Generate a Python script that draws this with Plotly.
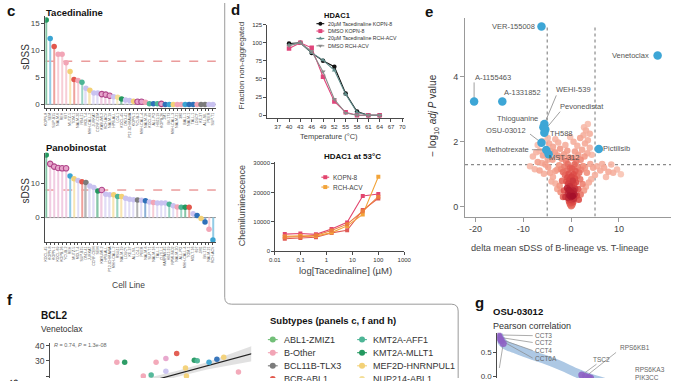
import numpy as np
import plotly.graph_objects as go

W, H = 678, 381
FONT = "Arial, 'Liberation Sans', sans-serif"

# ---------------- Panel c : lollipops ----------------
tac_cells = ["KOPN-8", "SEM", "SUP-B15", "NALM-6", "REH", "697", "MUTZ-5", "TOM-1", "NALM-20",
             "RS4;11", "MOLT-4", "MHH-CALL-2", "JURKAT", "CCRF-CEM", "KASUMI-2", "RCH-ACV",
             "NALM-19", "HPB-ALL", "LC4-1", "KOCL-45", "DND-41", "P12-ICHIKAWA", "KOPN-1",
             "YCUB-2", "MHH-CALL-4", "NALM-16", "KOCL-69", "ALL-PO", "HB11;19", "KOPB-26",
             "JM1", "BV-173", "MHH-CALL-3", "NALM-21", "380", "BALL-1", "NALM-1", "TALL-1",
             "LOUCY", "KE-37", "ALL-SIL", "PEER", "SUP-T1"]
tac_sdss = [15.6, 12.2, 10.7, 9.3, 9.3, 7.7, 6.1, 4.6, 4.4, 4.1, 3.0, 2.6, 2.1, 2.1, 1.9, 1.8,
            1.6, 1.4, 1.3, 1.0, 0.8, 0.7, 0.6, 0.5, 0.5, 0.4, 0.1, 0.1, 0.1, 0.1, 0.0, 0.0,
            0.0, 0.0, 0.0, 0.0, 0.0, 0.0, 0.0, 0.0, 0.0, 0.0, 0.0]
tac_subtype = ["KMT2A-MLLT1", "ETV6-RUNX1", "BCR-ABL1", "B-Other", "B-Other", "B-Other",
               "MEF2D-HNRNPUL1", "BCR-ABL1", "B-Other", "KMT2A-AFF1", "T-ALL", "MEF2D-HNRNPUL1",
               "T-ALL", "T-ALL", "PAX5alt", "PAX5alt", "PAX5alt", "T-ALL", "NUP214-ABL1",
               "KMT2A-MLLT1", "T-ALL", "T-ALL", "MEF2D-HNRNPUL1", "PAX5alt", "PAX5alt", "B-Other",
               "KMT2A-AFF1", "TCF3-PBX1", "KMT2A-AFF1", "PAX5alt", "TCF3-PBX1", "ETV6-RUNX1",
               "MEF2D-HNRNPUL1", "B-Other", "B-Other", "ETV6-RUNX1", "TCF3-PBX1", "TCF3-PBX1",
               "B-Other", "BCL11B-TLX3", "BCL11B-TLX3", "T-ALL", "T-ALL"]

pano_cells = ["KOCL-45", "KOPN-8", "KOPN-1", "KOCL-69", "KOPB-26", "YCUB-2", "REH", "MUTZ-5",
              "MOLT-4", "SUP-B15", "DND-41", "JURKAT", "CCRF-CEM", "SEM", "KASUMI-2", "HPB-ALL",
              "P12-ICHIKAWA", "MHH-CALL-2", "RS4;11", "NALM-19", "LOUCY", "KE-37", "ALL-SIL",
              "LC4-1", "PEER", "NALM-6", "SUP-T1", "NALM-16", "TALL-1", "CUTLL1", "KARPAS-45",
              "HB11;19", "RPMI-8402", "NALM-20", "ALL-PO", "MHH-CALL-4", "TOM-1", "MOLT-16",
              "697", "JM1", "BV-173", "NALM-21", "RCH-ACV"]
pano_sdss = [18.2, 15.6, 14.8, 14.4, 14.3, 14.3, 12.1, 11.3, 10.8, 10.4, 10.2, 9.2, 8.7, 7.7,
             8.0, 6.8, 6.6, 6.6, 6.1, 6.1, 5.6, 5.3, 5.2, 5.1, 5.0, 4.9, 4.5, 4.4, 4.2, 4.2,
             4.2, 3.9, 3.4, 3.1, 3.0, 3.0, 3.0, 1.1, 0.6, -0.3, -1.3, -3.4, -6.5]
pano_subtype = ["KMT2A-MLLT1", "PAX5alt", "PAX5alt", "PAX5alt", "PAX5alt", "PAX5alt",
                "ETV6-RUNX1", "MEF2D-HNRNPUL1", "T-ALL", "BCR-ABL1", "BCL11B-TLX3", "T-ALL",
                "T-ALL", "KMT2A-MLLT1", "PAX5alt", "T-ALL", "T-ALL", "MEF2D-HNRNPUL1",
                "KMT2A-AFF1", "MEF2D-HNRNPUL1", "T-ALL", "T-ALL", "T-ALL", "BCL11B-TLX3", "T-ALL",
                "TCF3-PBX1", "T-ALL", "B-Other", "T-ALL", "T-ALL", "T-ALL", "KMT2A-AFF1", "T-ALL",
                "B-Other", "KMT2A-AFF1", "KMT2A-MLLT1", "BCR-ABL1", "T-ALL", "TCF3-PBX1",
                "MEF2D-HNRNPUL1", "TCF3-PBX1", "B-Other", "ETV6-RUNX1"]
SDSS_CUTOFF = 8

SUB_COL = {
    "ABL1-ZMIZ1": "#72BF78", "B-Other": "#F2A5B6", "BCL11B-TLX3": "#7C7C7C",
    "BCR-ABL1": "#E2574C", "KMT2A-AFF1": "#4DB596", "KMT2A-MLLT1": "#23985F",
    "MEF2D-HNRNPUL1": "#F3D176", "NUP214-ABL1": "#F4DE96", "TCF3-PBX1": "#2F70B8",
    "ETV6-RUNX1": "#3AA4D2", "T-ALL": "#C9C2F0", "PAX5alt": "#E7A4CB",
}
legend_subtypes = ["ABL1-ZMIZ1", "B-Other", "BCL11B-TLX3", "BCR-ABL1",
                   "KMT2A-AFF1", "KMT2A-MLLT1", "MEF2D-HNRNPUL1", "NUP214-ABL1"]

# ---------------- Panel d : CETSA ----------------
temps = [40, 43, 46, 49, 52, 55, 58, 61, 64]
frac_tac_kopn8 = [99, 100, 86, 75, 67, 30, 5, 0, 0]
frac_dmso_kopn8 = [92, 100, 93, 53, 19, 4, 0, 0, 0]
frac_tac_rch = [97, 100, 86, 76, 62, 29, 4, 0, 0]
frac_dmso_rch = [96, 100, 88, 60, 22, 3, 0, 0, 0]

conc_um = [0.0244, 0.0977, 0.39, 1.5625, 6.25, 25, 100]
chemi_kopn8_a = [5800, 6000, 5700, 7500, 9800, 18800, 19500]
chemi_kopn8_b = [4200, 4500, 4700, 6200, 7100, 14000, 18000]
chemi_rch_a = [5000, 5200, 5100, 6300, 8600, 12500, 25400]
chemi_rch_b = [4700, 4900, 5400, 7000, 9200, 13600, 18600]

# ---------------- Panel e : volcano ----------------
volc_dx = [0.0, 0.15, -0.15, 0.3, -0.3, 0.05, 0.45, -0.45, 0.2, -0.2, 0.6, -0.6, 0.0, 0.35, -0.35,
           0.7, -0.7, 0.1, -0.1, 0.5, -0.5, 0.85, -0.85, 0.25, -0.25, 0.0, 0.6, -0.6, 1.0, -1.0,
           0.35, -0.35, 0.8, -0.8, 0.1,
           1.3, -1.3, 0.5, -0.5, 1.7, -1.7, 0.9, -0.9, 2.1, -2.1, 0.2, -0.2, 1.4, -1.4, 2.5, -2.5,
           0.7, -0.7, 2.9, -2.9, 3.3, -3.3, 1.9, -1.9, 2.4, -2.4, 1.5, -1.5, 1.2, -1.2,
           1.1, -1.1, 2.0, -2.0, 0.3, -0.4, 2.8, -2.8, 1.5, -1.5, 3.4, -3.4, 0.8, -0.8, 2.3, -2.3,
           3.9, -3.8, 1.3, -1.2, 2.9, -2.7, 0.5, 3.5, -3.3, 1.9, 2.6, 3.9, 3.1, 2.7, 3.5, -4.3,
           -4.6, -0.2, 4.3,
           -5.4, -6.1, -7.0, -8.6, -4.8, -6.6, -7.6, -5.7, -4.4, -3.8, -4.1, -3.3, -2.9, -2.2,
           -1.7, 4.0, 4.6, 5.4, 6.1, 6.9, 7.8, 8.8, 10.4, 7.3, 5.0, 4.2, 3.7, 3.1, 2.7, 2.0, 1.6,
           6.5, 8.4, 9.6,
           -6.6, -7.3, -5.9, -6.0, -4.9, -4.9, -3.9, -7.0, -8.0]
volc_nlogp = [0.02, 0.04, 0.06, 0.08, 0.1, 0.12, 0.15, 0.17, 0.2, 0.22, 0.25, 0.27, 0.3, 0.33, 0.35,
              0.38, 0.4, 0.43, 0.46, 0.5, 0.52, 0.55, 0.58, 0.6, 0.63, 0.67, 0.7, 0.72, 0.75, 0.78,
              0.8, 0.83, 0.87, 0.9, 0.93,
              0.95, 0.98, 1.0, 1.02, 1.05, 1.07, 1.1, 1.12, 1.14, 1.16, 1.18, 1.2, 1.22, 1.24, 1.26,
              1.28, 1.3, 1.32, 1.2, 1.15, 1.05, 1.1, 0.85, 0.8, 0.7, 0.65, 0.55, 0.5, 0.35, 0.3,
              1.4, 1.42, 1.45, 1.48, 1.5, 1.52, 1.55, 1.58, 1.6, 1.62, 1.65, 1.68, 1.7, 1.73, 1.76,
              1.79, 1.82, 1.85, 1.88, 1.9, 1.95, 1.98, 2.0, 2.05, 2.08, 2.12, 2.2, 2.25, 2.35, 2.45,
              2.55, 1.72, 1.95, 2.15, 1.6,
              1.3, 1.35, 1.38, 1.25, 1.22, 1.12, 1.16, 1.02, 1.05, 0.92, 0.78, 0.72, 0.55, 0.45,
              0.3, 1.32, 1.2, 1.25, 1.12, 1.2, 1.08, 1.05, 1.0, 0.92, 0.98, 0.85, 0.75, 0.62, 0.5,
              0.38, 0.22, 1.32, 1.3, 1.15,
              1.72, 1.68, 1.58, 2.02, 2.12, 1.45, 1.45, 1.9, 1.55]

hit_drugs = ["VER-155008", "Venetoclax", "A-1155463", "A-1331852", "WEHI-539", "Thioguanine",
             "Pevonedistat", "TH588", "OSU-03012", "Methotrexate", "Pictilisib", "MST-312"]
hit_dx = [-6.2, 18.1, -20.3, -14.4, -5.6, -5.8, -5.4, -5.6, -6.2, -5.2, 5.8, -4.7]
hit_nlogp = [5.55, 4.66, 3.24, 3.24, 2.55, 2.45, 2.38, 2.28, 1.97, 1.75, 1.78, 1.62]

# ---------------- Panel f : BCL2 vs venetoclax ----------------
bcl2_expr = [3.4, 3.8, 4.75, 5.15, 5.4, 5.9, 5.9, 6.45, 6.9, 6.95, 7.35, 7.5, 8.1, 8.5, 8.85, 9.6]
vene_sdss = [29.0, 29.0, 20.0, 20.6, 29.0, 31.6, 23.2, 34.8, 25.2, 20.0, 30.3, 30.0, 29.0, 31.0,
             32.3, 22.6]
bcl2_subtype = ["B-Other", "KMT2A-MLLT1", "B-Other", "KMT2A-AFF1", "B-Other", "PAX5alt", "T-ALL",
                "BCR-ABL1", "MEF2D-HNRNPUL1", "MEF2D-HNRNPUL1", "KMT2A-MLLT1", "KMT2A-AFF1",
                "ETV6-RUNX1", "TCF3-PBX1", "MEF2D-HNRNPUL1", "B-Other"]
fit_x = [5.0, 6.5, 8.0, 9.5, 10.3]
fit_y = [16.2, 21.5, 26.7, 32.0, 34.8]
fit_lo = [13.5, 19.6, 24.3, 28.0, 29.8]
fit_hi = [18.9, 23.4, 29.1, 36.0, 39.8]

# ---------------- Panel g : OSU-03012 correlation ----------------
rank = [1, 2, 3, 4, 5, 7, 9, 12, 15, 20, 30, 40, 50, 60, 70, 80, 85, 90, 100, 110, 130, 160, 180]
pearson_r = [0.87, 0.82, 0.78, 0.75, 0.72, 0.68, 0.65, 0.62, 0.60, 0.56, 0.48, 0.41, 0.34, 0.26,
             0.17, 0.07, 0.03, -0.01, -0.08, -0.14, -0.25, -0.40, -0.50]
g_genes = ["CCT3", "CCT2", "CCT4", "CCT6A", "TCP1", "TSC2", "RPS6KB1", "RPS6KA3", "PIK3CC"]
g_rank = [1, 2, 3, 4, 6, 86, 90, 93, 95]
g_r = [0.87, 0.82, 0.78, 0.75, 0.69, 0.02, -0.01, -0.03, -0.04]

# ======================================================================
def xd(a, b):
    return [a / W, b / W]


def yd(top, bottom):
    return [1 - bottom / H, 1 - top / H]


def lighten(hexc, f):
    h = hexc.lstrip('#')
    r, g, b = int(h[0:2], 16), int(h[2:4], 16), int(h[4:6], 16)
    r = int(r + (255 - r) * f)
    g = int(g + (255 - g) * f)
    b = int(b + (255 - b) * f)
    return f"rgb({r},{g},{b})"


AXC = "#4a4a4a"


def base_axis(**kw):
    d = dict(showgrid=False, zeroline=False, showline=True, linecolor=AXC, linewidth=1,
             ticks="outside", ticklen=3, tickwidth=1, tickcolor=AXC,
             tickfont=dict(size=8, color="#444", family=FONT), fixedrange=True)
    d.update(kw)
    return d


fig = go.Figure()
ann = []
shapes = []


def text(s, x, y, size, color="#333", bold=False, xanchor="left", yanchor="middle", angle=0):
    if bold:
        s = f"<b>{s}</b>"
    ann.append(dict(text=s, x=x / W, y=1 - y / H, xref="paper", yref="paper", showarrow=False,
                    font=dict(size=size, color=color, family=FONT), xanchor=xanchor,
                    yanchor=yanchor, textangle=angle, borderpad=0))


# ---------- panel c traces ----------
def lollipops(vals, subs, xa, ya):
    n = len(vals)
    xs = list(range(n))
    cols = [SUB_COL[s] for s in subs]
    fig.add_trace(go.Bar(x=xs, y=vals, width=0.36, marker=dict(color=[lighten(c, 0.45) for c in cols],
                                                               line=dict(width=0)),
                         xaxis=xa, yaxis=ya, hoverinfo="skip"))
    fig.add_trace(go.Scatter(x=xs, y=vals, mode="markers", xaxis=xa, yaxis=ya,
                             marker=dict(size=5.5, color=cols,
                                         line=dict(width=[1.1 if s == "PAX5alt" else 0 for s in subs],
                                                   color="#B0468A")),
                             hoverinfo="skip"))


lollipops(tac_sdss, tac_subtype, "x", "y")
lollipops(pano_sdss, pano_subtype, "x2", "y2")

for xa, ya, n in [("x", "y", len(tac_sdss)), ("x2", "y2", len(pano_sdss))]:
    shapes.append(dict(type="line", xref=xa, yref=ya, x0=-0.25, x1=n - 0.26, y0=0, y1=0,
                       line=dict(color="#8a8a8a", width=1), layer="below"))
    shapes.append(dict(type="line", xref=xa, yref=ya, x0=-0.25, x1=n - 0.26, y0=SDSS_CUTOFF,
                       y1=SDSS_CUTOFF, line=dict(color="#E06A6A", width=1, dash="dash"), layer="below"))

# ---------- panel d traces ----------
cet = [
    (frac_tac_kopn8, "#111111", "circle", "20µM Tacedinaline KOPN-8"),
    (frac_dmso_kopn8, "#E0457B", "square", "DMSO KOPN-8"),
    (frac_tac_rch, "#5F8C8A", "triangle-up", "20µM Tacedinaline RCH-ACV"),
    (frac_dmso_rch, "#8A8A8A", "triangle-down", "DMSO RCH-ACV"),
]
for vals, col, sym, name in cet:
    fig.add_trace(go.Scatter(x=temps, y=vals, mode="lines+markers", xaxis="x3", yaxis="y3",
                             line=dict(color=col, width=1.1), marker=dict(size=4.5, symbol=sym, color=col),
                             hoverinfo="skip"))

chem = [(chemi_kopn8_a, "#E2456E"), (chemi_kopn8_b, "#E05A55"), (chemi_rch_a, "#F2A43A"),
        (chemi_rch_b, "#EC7D3E")]
for vals, col in chem:
    fig.add_trace(go.Scatter(x=conc_um, y=vals, mode="lines+markers", xaxis="x4", yaxis="y4",
                             line=dict(color=col, width=1.1), marker=dict(size=4, symbol="square", color=col),
                             hoverinfo="skip"))

# ---------- panel e traces ----------
vx = np.array(volc_dx)
vy = np.array(volc_nlogp)
px_x = vx * 4.877
px_y = vy * 33.0
d2 = (px_x[:, None] - px_x[None, :]) ** 2 + (px_y[:, None] - px_y[None, :]) ** 2
dens = (d2 < 11 ** 2).sum(axis=1).astype(float)
order = np.argsort(dens)
fig.add_trace(go.Scatter(x=vx[order], y=vy[order], mode="markers", xaxis="x5", yaxis="y5",
                         marker=dict(size=6.5, color=dens[order], cmin=dens.min(), cmax=dens.max(),
                                     colorscale=[[0, "#F8C3B3"], [0.35, "#F1907C"], [0.7, "#DC4A45"],
                                                 [1, "#A50F2A"]],
                                     opacity=0.9, line=dict(width=0)),
                         hoverinfo="skip"))
for xv in (-5, 5):
    shapes.append(dict(type="line", xref="x5", yref="y5", x0=xv, x1=xv, y0=-0.3, y1=5.55,
                       line=dict(color="#8a8a8a", width=1.2, dash="dot"), layer="below"))
shapes.append(dict(type="line", xref="x5", yref="y5", x0=-22.2, x1=20.9, y0=1.3, y1=1.3,
                   line=dict(color="#8a8a8a", width=1.2, dash="dot"), layer="below"))

e_label = {  # name: (label x, label y, xanchor, leader end x, leader end y)
    "VER-155008": (-7.4, 5.55, "right", None, None),
    "Venetoclax": (16.6, 4.66, "right", None, None),
    "A-1155463": (-20.4, 3.99, "left", -20.3, 3.83),
    "A-1331852": (-14.3, 3.52, "left", None, None),
    "WEHI-539": (-3.3, 3.60, "left", -3.1, 3.43),
    "Pevonedistat": (-2.6, 3.08, "left", -2.3, 2.93),
    "Thioguanine": (-6.8, 2.73, "right", -6.3, 2.62),
    "TH588": (-4.7, 2.27, "left", None, None),
    "OSU-03012": (-9.3, 2.34, "right", -8.6, 2.24),
    "Methotrexate": (-8.5, 1.78, "right", -8.2, 1.76),
    "Pictilisib": (6.5, 1.81, "left", None, None),
    "MST-312": (-4.8, 1.51, "left", None, None),
}
lx, ly = [], []
for name, xv, yv in zip(hit_drugs, hit_dx, hit_nlogp):
    tx, ty, anc, ex, ey = e_label[name]
    if ex is not None:
        lx += [xv, ex, None]
        ly += [yv, ey, None]
fig.add_trace(go.Scatter(x=lx, y=ly, mode="lines", xaxis="x5", yaxis="y5",
                         line=dict(color="#777", width=0.7), hoverinfo="skip"))
fig.add_trace(go.Scatter(x=hit_dx, y=hit_nlogp, mode="markers", xaxis="x5", yaxis="y5",
                         marker=dict(size=8.5, color="#3DA6D6", line=dict(width=0)), hoverinfo="skip"))
for name in hit_drugs:
    tx, ty, anc, ex, ey = e_label[name]
    ann.append(dict(text=name, x=tx, y=ty, xref="x5", yref="y5", showarrow=False, xanchor=anc,
                    yanchor="middle", font=dict(size=7.5, color="#555", family=FONT), borderpad=0))

# ---------- panel f traces ----------
fig.add_trace(go.Scatter(x=fit_x + fit_x[::-1], y=fit_hi + fit_lo[::-1], fill="toself", mode="lines",
                         fillcolor="rgba(200,200,200,0.55)", line=dict(width=0), xaxis="x6", yaxis="y6",
                         hoverinfo="skip"))
fig.add_trace(go.Scatter(x=fit_x, y=fit_y, mode="lines", line=dict(color="#222", width=1.2),
                         xaxis="x6", yaxis="y6", hoverinfo="skip"))
fig.add_trace(go.Scatter(x=bcl2_expr, y=vene_sdss, mode="markers", xaxis="x6", yaxis="y6",
                         marker=dict(size=5.5, color=[SUB_COL[s] for s in bcl2_subtype], opacity=0.95),
                         hoverinfo="skip"))

# ---------- panel g traces ----------
fig.add_trace(go.Scatter(x=rank, y=pearson_r, mode="lines", xaxis="x7", yaxis="y7",
                         line=dict(color="#ADC8E4", width=9, shape="spline"), hoverinfo="skip"))
g_lab = {  # gene: (label x, label y, xanchor, leader end x, leader end y)
    "CCT3": (37, 0.855, "left", 36, 0.855),
    "CCT2": (37, 0.71, "left", 36, 0.71),
    "CCT4": (37, 0.54, "left", 36, 0.54),
    "CCT6A": (37, 0.37, "left", 36, 0.38),
    "TCP1": (-1, 0.05, "left", 2, 0.17),
    "TSC2": (96, 0.35, "left", 101, 0.25),
    "RPS6KB1": (124, 0.60, "left", 121, 0.50),
    "RPS6KA3": (139, 0.13, "left", None, None),
    "PIK3CC": (139, -0.04, "left", None, None),
}
glx, gly = [], []
for gname, rv, cv in zip(g_genes, g_rank, g_r):
    tx, ty, anc, ex, ey = g_lab[gname]
    if ex is not None:
        glx += [rv, ex, None]
        gly += [cv, ey, None]
fig.add_trace(go.Scatter(x=glx, y=gly, mode="lines", xaxis="x7", yaxis="y7",
                         line=dict(color="#888", width=0.7), hoverinfo="skip"))
fig.add_trace(go.Scatter(x=g_rank, y=g_r, mode="markers", xaxis="x7", yaxis="y7",
                         marker=dict(size=7, color="#8E62C4", opacity=0.9), hoverinfo="skip"))
for gname in g_genes:
    tx, ty, anc, ex, ey = g_lab[gname]
    ann.append(dict(text=gname, x=tx, y=ty, xref="x7", yref="y7", showarrow=False, xanchor=anc,
                    yanchor="middle", font=dict(size=6.5, color="#666", family=FONT), borderpad=0))

# ---------- overlay (pixel) legends ----------
def leg_item(cx, cy, col, sym, half=4.5, msize=4.5):
    fig.add_trace(go.Scatter(x=[cx - half, cx + half], y=[cy, cy], mode="lines", xaxis="x8", yaxis="y8",
                             line=dict(color=col, width=1.1), hoverinfo="skip"))
    fig.add_trace(go.Scatter(x=[cx], y=[cy], mode="markers", xaxis="x8", yaxis="y8",
                             marker=dict(size=msize, color=col, symbol=sym), hoverinfo="skip"))


for i, (vals, col, sym, name) in enumerate(cet):
    cy = 21 + i * 7.5
    leg_item(320.5, cy, col, sym, half=4, msize=4)
    text(name, 327, cy, 5.2, color="#333")
for i, (name, col) in enumerate([("KOPN-8", "#E2456E"), ("RCH-ACV", "#F2A43A")]):
    cy = 177 + i * 10
    leg_item(325.5, cy, col, "square", half=4, msize=4)
    text(name, 332, cy, 6.5, color="#444")
for i, st in enumerate(legend_subtypes):
    col_x = 272 if i < 4 else 363
    cy = 342 + (i % 4) * 13.3
    leg_item(col_x, cy, SUB_COL[st], "circle", half=5, msize=6)
    text(st, col_x + 10, cy, 9, color="#333")

shapes.append(dict(type="path", xref="x8", yref="y8",
                   path="M 223,-5 L 223,299 Q 223,306 230,306 L 454,306 Q 461,306 461,313 L 461,395",
                   line=dict(color="#9a9a9a", width=1)))

# ---------- text ----------
text("c", 0, 8, 15, color="#111", bold=True)
text("d", 228, 7, 15, color="#111", bold=True)
text("e", 426, 9, 15, color="#111", bold=True)
text("f", 0, 301, 15, color="#111", bold=True)
text("g", 477, 304, 15, color="#111", bold=True)

text("Tacedinaline", 40, 10, 9.5, color="#111", bold=True)
text("Panobinostat", 40, 147, 9.5, color="#111", bold=True)
text("sDSS", 20, 55, 10, color="#333", xanchor="center", angle=-90)
text("sDSS", 20, 191, 10, color="#333", xanchor="center", angle=-90)
text("Cell Line", 125, 287, 8.5, color="#444", xanchor="center")

text("HDAC1", 323, 12.5, 7.5, color="#111", bold=True)
text("Fraction non-aggregated", 240, 63, 8, color="#444", xanchor="center", angle=-90)
text("Temperature (°C)", 329, 136, 7.5, color="#444", xanchor="center")
text("HDAC1 at 53°C", 323, 156, 8, color="#111", bold=True)
text("Chemiluminescence", 240, 206, 9, color="#444", xanchor="center", angle=-90)
text("log[Tacedinaline] (µM)", 346, 272, 9.5, color="#444", xanchor="center")

text("− log<sub>10</sub> <i>adj P</i> value", 436, 115, 10, color="#333", xanchor="center", angle=-90)
text("delta mean sDSS of B-lineage vs. T-lineage", 565, 249, 9.2, color="#444", xanchor="center")

text("BCL2", 35, 317, 10, color="#111", bold=True)
text("Venetoclax", 35, 331, 8.5, color="#333")
text("<i>R</i> = 0.74, <i>P</i> = 1.3e-08", 48, 347, 5.5, color="#666")
text("sDSS", 9, 395, 10, color="#333", xanchor="center", angle=-90)
text("Subtypes (panels c, f and h)", 268, 323, 9.5, color="#111", bold=True)

text("OSU-03012", 495, 313, 9.5, color="#111", bold=True)
text("Pearson correlation", 495, 328, 9, color="#333")

# ---------- layout ----------
n_t = len(tac_sdss)
n_p = len(pano_sdss)
lay = dict(
    width=W, height=H, margin=dict(l=0, r=0, t=0, b=0), paper_bgcolor="white",
    plot_bgcolor="rgba(0,0,0,0)", showlegend=False, hovermode=False,
    font=dict(family=FONT),
    xaxis=base_axis(domain=xd(40, 214), anchor="y", range=[-0.25, n_t - 0.26],
                    tickvals=list(range(n_t)), ticktext=tac_cells, tickangle=-90, ticklen=2,
                    tickfont=dict(size=3.6, color="#555", family=FONT)),
    yaxis=base_axis(domain=yd(13, 107), anchor="x", range=[-0.73, 16.4], tickvals=[0, 5, 10, 15]),
    xaxis2=base_axis(domain=xd(40, 214), anchor="y2", range=[-0.25, n_p - 0.26],
                     tickvals=list(range(n_p)), ticktext=pano_cells, tickangle=-90, ticklen=2,
                     tickfont=dict(size=3.6, color="#555", family=FONT)),
    yaxis2=base_axis(domain=yd(152, 243), anchor="x2", range=[-7.14, 18.86], tickvals=[0, 10]),
    xaxis3=base_axis(domain=xd(266, 406), anchor="y3", range=[34.14, 70.5], tickvals=list(range(37, 71, 3)),
                     tickfont=dict(size=6, color="#333", family=FONT), ticklen=2.5),
    yaxis3=base_axis(domain=yd(22, 117), anchor="x3", range=[-4.1, 125], tickvals=[0, 25, 50, 75, 100, 125],
                     tickfont=dict(size=6, color="#333", family=FONT), ticklen=2.5),
    xaxis4=base_axis(domain=xd(274, 406), anchor="y4", type="log", range=[-2, 3],
                     tickvals=[0.01, 0.1, 1, 10, 100, 1000], ticktext=["0.01", "0.1", "1", "10", "100", "1000"],
                     tickfont=dict(size=6, color="#333", family=FONT), ticklen=2.5),
    yaxis4=base_axis(domain=yd(162, 252), anchor="x4", range=[0, 30300],
                     tickvals=[0, 10000, 20000, 30000], ticktext=["0", "10000", "20000", "30000"],
                     tickfont=dict(size=6, color="#333", family=FONT), ticklen=2.5),
    xaxis5=base_axis(domain=xd(468, 678), anchor="y5", range=[-22.2, 20.9], tickvals=[-20, -10, 0, 10],
                     ticktext=["-20", "-10", "0", "10"], linecolor="#999", tickcolor="#999", ticklen=4,
                     tickfont=dict(size=9, color="#444", family=FONT)),
    yaxis5=base_axis(domain=yd(15, 217), anchor="x5", range=[-0.3, 5.82], tickvals=[0, 2, 4],
                     linecolor="#999", tickcolor="#999", ticklen=4,
                     tickfont=dict(size=9, color="#444", family=FONT)),
    xaxis6=dict(domain=xd(45, 250), anchor="y6", range=[0, 10.25], visible=False, fixedrange=True),
    yaxis6=base_axis(domain=yd(345, 381), anchor="x6", range=[18.7, 42], tickvals=[20, 30, 40],
                     tickfont=dict(size=8.5, color="#444", family=FONT), ticklen=3),
    xaxis7=dict(domain=xd(501, 678), anchor="y7", range=[0, 177], visible=False, fixedrange=True),
    yaxis7=base_axis(domain=yd(335, 381), anchor="x7", range=[-0.042, 0.917], tickvals=[0.0, 0.5],
                     ticktext=["0.0", "0.5"], tickfont=dict(size=8, color="#444", family=FONT)),
    xaxis8=dict(domain=[0, 1], anchor="y8", range=[0, W], visible=False, fixedrange=True),
    yaxis8=dict(domain=[0, 1], anchor="x8", range=[H, 0], visible=False, fixedrange=True),
    annotations=ann, shapes=shapes,
)
fig.update_layout(**lay)
fig.write_html("out.html", config={"displayModeBar": False},
               post_script="document.body.style.margin='0';document.body.style.overflow='hidden';")
